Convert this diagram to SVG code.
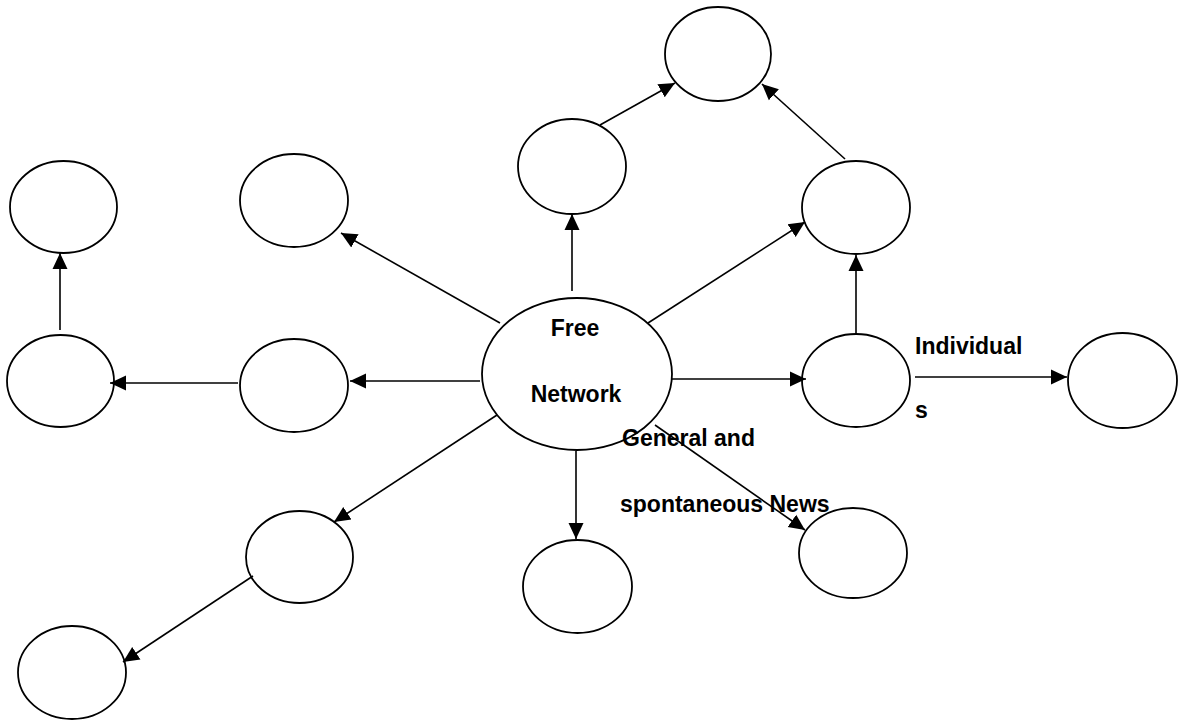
<svg xmlns="http://www.w3.org/2000/svg" width="1182" height="721" viewBox="0 0 1182 721">
<style>
.n{fill:#fff;stroke:#000;stroke-width:1.8}
.c line{stroke:#000;stroke-width:1.6;marker-end:url(#ah)}
.t{font-family:"Liberation Sans",Arial,sans-serif;font-weight:bold;font-size:23px;fill:#000}
</style>
<defs>
<marker id="ah" markerUnits="userSpaceOnUse" markerWidth="18" markerHeight="18" viewBox="0 0 18 18" refX="16" refY="9" orient="auto">
<path d="M0,1.5 L16,9 L0,16.5 Z" fill="#000"/>
</marker>
</defs>
<rect width="1182" height="721" fill="#fff"/>
<g id="nodes">
<g id="n-top"><ellipse class="n" cx="718" cy="54" rx="53" ry="47"/></g>
<g id="n-upmid"><ellipse class="n" cx="572" cy="166.5" rx="54" ry="47.5"/></g>
<g id="n-upright"><ellipse class="n" cx="856" cy="207.5" rx="54" ry="46.5"/></g>
<g id="n-upleft"><ellipse class="n" cx="294" cy="200.5" rx="54" ry="46.5"/></g>
<g id="n-farleft-top"><ellipse class="n" cx="63.5" cy="207" rx="53.5" ry="46"/></g>
<g id="n-farleft-mid"><ellipse class="n" cx="60.5" cy="381" rx="53.5" ry="46"/></g>
<g id="n-midleft"><ellipse class="n" cx="294" cy="385.5" rx="54" ry="46.5"/></g>
<g id="n-center"><ellipse class="n" cx="577" cy="374" rx="95" ry="76"/>
<text class="t" x="575" y="336" text-anchor="middle">Free</text>
<text class="t" x="576" y="402" text-anchor="middle">Network</text></g>
<g id="n-midright"><ellipse class="n" cx="856" cy="380.5" rx="54" ry="46.5"/></g>
<g id="n-farright"><ellipse class="n" cx="1122.5" cy="380.5" rx="54.5" ry="47.5"/></g>
<g id="n-lowright"><ellipse class="n" cx="853" cy="553" rx="54" ry="45"/></g>
<g id="n-lowmid"><ellipse class="n" cx="577.5" cy="586.5" rx="54.5" ry="46.5"/></g>
<g id="n-lowleft"><ellipse class="n" cx="299.5" cy="557" rx="53.5" ry="46"/></g>
<g id="n-bottomleft"><ellipse class="n" cx="72" cy="672.5" rx="54" ry="46.5"/></g>
</g>
<g id="connectors" class="c">
<line x1="572" y1="291" x2="572" y2="214"/>
<line x1="600" y1="125" x2="675" y2="83"/>
<line x1="845" y1="159" x2="762" y2="84"/>
<line x1="648" y1="323" x2="805" y2="222"/>
<line x1="856" y1="333" x2="856" y2="255"/>
<line x1="672" y1="379" x2="806" y2="379"/>
<line x1="915" y1="377" x2="1067" y2="377"/>
<line x1="655" y1="425" x2="805" y2="530"/>
<line x1="576" y1="451" x2="576" y2="539"/>
<line x1="497" y1="415" x2="334" y2="522"/>
<line x1="253" y1="576" x2="123" y2="662"/>
<line x1="480" y1="381" x2="350" y2="381"/>
<line x1="238" y1="383" x2="110" y2="383"/>
<line x1="60" y1="330" x2="60" y2="253"/>
<line x1="500" y1="323" x2="341" y2="233"/>
</g>
<g id="labels">
<text class="t" x="915" y="354">Individual</text>
<text class="t" x="915" y="418">s</text>
<text class="t" x="622" y="446">General and</text>
<text class="t" x="620" y="512">spontaneous News</text>
</g>
</svg>
